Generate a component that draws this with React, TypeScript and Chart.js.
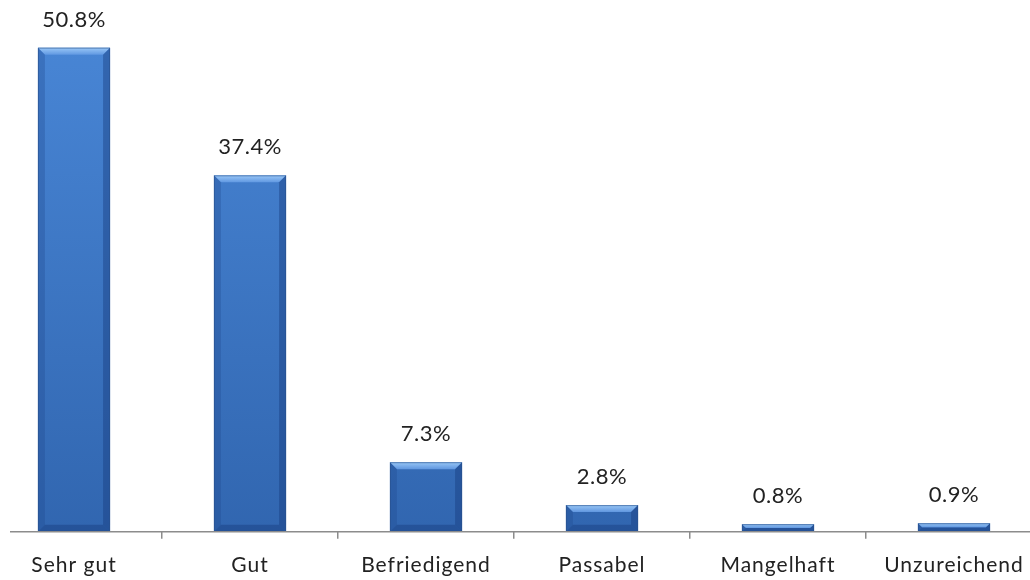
import React, { useEffect, useRef } from "react";
import { Chart, registerables } from "chart.js";

Chart.register(...registerables);

const categories = ["Sehr gut", "Gut", "Befriedigend", "Passabel", "Mangelhaft", "Unzureichend"];
const values = [50.8, 37.4, 7.3, 2.8, 0.8, 0.9];
const valueLabels = ["50.8%", "37.4%", "7.3%", "2.8%", "0.8%", "0.9%"];

const FONT = "Lato, 'Open Sans', sans-serif";

const spacingPlugin = {
  id: "spacing",
  beforeDraw(chart: any) {
    (chart.ctx as any).letterSpacing = "1px";
  },
};

const bevelPlugin = {
  id: "bevel",
  afterDatasetsDraw(chart: any) {
    const ctx = chart.ctx;
    const meta = chart.getDatasetMeta(0);
    meta.data.forEach((bar: any, i: number) => {
      const half = bar.width / 2;
      const l = bar.x - half;
      const r = bar.x + half;
      const t = bar.y;
      const b = bar.base;
      const h = b - t;
      const bv = Math.min(7, h / 2, half);
      ctx.save();
      // top bevel
      ctx.beginPath();
      ctx.moveTo(l, t);
      ctx.lineTo(r, t);
      ctx.lineTo(r - bv, t + bv);
      ctx.lineTo(l + bv, t + bv);
      ctx.closePath();
      const g = ctx.createLinearGradient(0, t, 0, t + bv);
      g.addColorStop(0, "rgba(160,205,250,0.95)");
      g.addColorStop(1, "rgba(100,155,228,0.9)");
      ctx.fillStyle = g;
      ctx.fill();
      // left bevel
      ctx.beginPath();
      ctx.moveTo(l, t);
      ctx.lineTo(l + bv, t + bv);
      ctx.lineTo(l + bv, b - bv);
      ctx.lineTo(l, b);
      ctx.closePath();
      ctx.fillStyle = "rgba(30,70,140,0.3)";
      ctx.fill();
      // right bevel
      ctx.beginPath();
      ctx.moveTo(r, t);
      ctx.lineTo(r - bv, t + bv);
      ctx.lineTo(r - bv, b - bv);
      ctx.lineTo(r, b);
      ctx.closePath();
      ctx.fillStyle = "rgba(20,55,120,0.4)";
      ctx.fill();
      // bottom bevel
      ctx.beginPath();
      ctx.moveTo(l, b);
      ctx.lineTo(l + bv, b - bv);
      ctx.lineTo(r - bv, b - bv);
      ctx.lineTo(r, b);
      ctx.closePath();
      ctx.fillStyle = "rgba(20,55,120,0.4)";
      ctx.fill();
      // outline
      ctx.strokeStyle = "rgba(40,80,140,0.6)";
      ctx.lineWidth = 1;
      ctx.strokeRect(l + 0.5, t + 0.5, bar.width - 1, h - 1);
      ctx.restore();

      // value label
      ctx.save();
      ctx.font = `22px ${FONT}`;
      (ctx as any).letterSpacing = "0.5px";
      ctx.fillStyle = "#222222";
      ctx.textAlign = "center";
      ctx.textBaseline = "middle";
      ctx.fillText(valueLabels[i], bar.x, t - 28);
      ctx.restore();
    });
  },
};

const axisLinePlugin = {
  id: "axisLine",
  afterDatasetsDraw(chart: any) {
    const ctx = chart.ctx;
    const y = chart.chartArea.bottom;
    ctx.save();
    ctx.strokeStyle = "#8c8c8c";
    ctx.lineWidth = 1.5;
    ctx.beginPath();
    ctx.moveTo(chart.chartArea.left + 24, y);
    ctx.lineTo(chart.chartArea.right, y);
    ctx.stroke();
    ctx.restore();
  },
};

export default function App() {
  const ref = useRef<HTMLCanvasElement>(null);
  useEffect(() => {
    const canvas = ref.current!;
    const ctx = canvas.getContext("2d")!;
    const grad = ctx.createLinearGradient(0, 0, 0, 532);
    grad.addColorStop(0, "#4a88d8");
    grad.addColorStop(1, "#3166b0");
    const chart = new Chart(canvas, {
      type: "bar",
      data: {
        labels: categories,
        datasets: [
          {
            data: values,
            backgroundColor: grad,
            barPercentage: 0.41,
            categoryPercentage: 1,
          },
        ],
      },
      options: {
        responsive: false,
        animation: false,
        layout: { padding: { top: 0, bottom: 2, left: 0, right: 0 } },
        plugins: { legend: { display: false }, tooltip: { enabled: false } },
        scales: {
          y: { display: false, min: 0, max: 55.8 },
          x: {
            border: { display: false },
            grid: {
              display: true,
              drawOnChartArea: false,
              drawTicks: true,
              tickLength: 7,
              color: "#8c8c8c",
              lineWidth: 1.5,
              offset: true,
            },
            ticks: {
              padding: 14,
              color: "#222222",
              font: { family: FONT, size: 21 },
              maxRotation: 0,
              autoSkip: false,
            },
          },
        },
      },
      plugins: [spacingPlugin, bevelPlugin, axisLinePlugin],
    });
    return () => chart.destroy();
  }, []);
  return (
    <div style={{ position: "absolute", left: 0, top: 0, width: 1030, height: 580, overflow: "hidden", background: "#fff" }}>
      <canvas ref={ref} width={1056} height={594} style={{ position: "absolute", left: -14, top: 0, width: 1056, height: 594 }} />
    </div>
  );
}
